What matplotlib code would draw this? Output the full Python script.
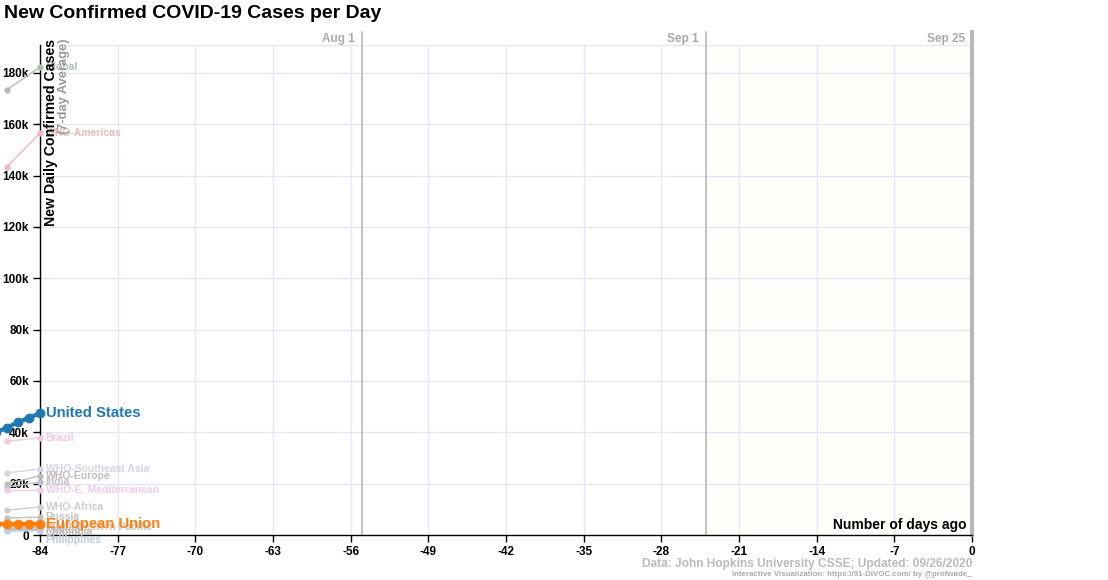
import numpy as np
import matplotlib
matplotlib.use("Agg")
import matplotlib.pyplot as plt

plt.rcParams['font.family'] = ['Liberation Sans', 'DejaVu Sans']

# days ago for the two frames shown on the left edge
faded_days = [-87, -84]
main_days = [-88, -87, -86, -85, -84]

# faded series: name, values (k cases) at faded_days, colour
faded_names = ["Global", "WHO-Americas", "Brazil", "WHO-Southeast Asia", "WHO-Europe",
               "India", "WHO-E. Mediterranean", "WHO-Africa", "Russia",
               "WHO-Western Pacific", "Mexico", "Colombia", "Philippines"]
faded_values = [[173.4, 182.3], [143.4, 156.6], [36.6, 37.8], [24.2, 25.7], [19.9, 23.1],
                [18.7, 20.6], [17.5, 17.5], [9.7, 10.9], [6.6, 7.0],
                [3.2, 3.4], [2.6, 2.8], [2.0, 2.3], [1.5, 1.7]]
faded_colors = ["#b2bdb2", "#eab9bd", "#f4c6df", "#d4d4ea", "#c2bbbb",
                "#c6bccc", "#f2cbe6", "#cfcfcf", "#c2c2c2",
                "#d2cbbd", "#c4bdb5", "#b8b8b8", "#bccae2"]
# label positions in k (so labels don't overlap completely)
faded_label_y = [182.3, 156.6, 37.8, 25.7, 23.1, 20.6, 17.5, 10.9, 7.0, 3.0, 2.0, 1.2, -2.0]

us_values = [40.0, 41.7, 44.0, 45.6, 47.5]
eu_values = [4.3, 4.3, 4.3, 4.3, 4.3]

x_ticks = list(range(-84, 1, 7))
y_ticks = list(range(0, 181, 20))
month_marks = [(-55, "Aug 1"), (-24, "Sep 1"), (0, "Sep 25")]

fig = plt.figure(figsize=(11.08, 5.8), dpi=100)
ax = fig.add_axes([40 / 1108, 45 / 580, 932 / 1108, 490 / 580])
y_top = 190.9
ax.set_xlim(-84, 0)
ax.set_ylim(0, y_top)

ax.axvspan(-24, 0, color="#fefefa", zorder=0)
for t in x_ticks:
    ax.axvline(t, color="#e6e6f2", lw=1, zorder=1)
for t in y_ticks[1:] + [y_top]:
    ax.axhline(t, color="#e6e6f2", lw=1, zorder=1)

for d, lab in month_marks:
    lw = 3 if d == 0 else 1.2
    ax.plot([d, d], [0, y_top + 5], color="#b8b8b8", lw=lw, zorder=2, clip_on=False)
    ax.text(d - 0.6, y_top + 2.3, lab, ha="right", va="center", fontsize=8.5,
            color="#aaaaaa", fontweight="bold")

for name, vals, c, ly in zip(faded_names, faded_values, faded_colors, faded_label_y):
    ax.plot(faded_days, vals, color=c, lw=1, marker="o", ms=3.5, clip_on=False, zorder=3)
    ax.text(-83.5, ly, name, color=c, fontsize=7.5, fontweight="bold",
            va="center", ha="left", zorder=4, clip_on=False)

ax.plot(main_days, us_values, color="#1f77b4", lw=3, marker="o", ms=6, clip_on=False, zorder=5)
ax.text(-83.5, us_values[-1], "United States", color="#1f77b4", fontsize=10.7,
        fontweight="bold", va="center", ha="left", zorder=6)
ax.plot(main_days, eu_values, color="#ff7f0e", lw=3, marker="o", ms=6, clip_on=False, zorder=5)
ax.text(-83.5, eu_values[-1], "European Union", color="#ff7f0e", fontsize=10.7,
        fontweight="bold", va="center", ha="left", zorder=6)

ax.set_xticks(x_ticks)
ax.set_xticklabels([str(t) for t in x_ticks], fontsize=8.5, fontweight="bold")
ax.set_yticks(y_ticks)
ax.set_yticklabels(["0"] + [f"{t}k" for t in y_ticks[1:]], fontsize=8.5, fontweight="bold")
ax.tick_params(length=5, width=1, pad=3)
for s in ["top", "right"]:
    ax.spines[s].set_visible(False)
ax.spines["left"].set_linewidth(1)
ax.spines["bottom"].set_linewidth(1)

ax.text(-83.0, y_top + 2.5, "New Daily Confirmed Cases", rotation=90, ha="center", va="top",
        fontsize=10.2, fontweight="bold", color="black", zorder=7, clip_on=False)
ax.text(-81.8, y_top + 2.5, "(7-day Average)", rotation=90, ha="center", va="top",
        fontsize=9.3, fontweight="bold", color="#999999", zorder=7, clip_on=False)
ax.text(-0.5, 4, "Number of days ago", ha="right", va="center", fontsize=10,
        fontweight="bold", color="black", zorder=7)

fig.text(4 / 1108, 1 - 14 / 580, "New Confirmed COVID-19 Cases per Day", ha="left",
         va="center", fontsize=14, fontweight="bold")
fig.text(972 / 1108, 1 - 564 / 580, "Data: John Hopkins University CSSE; Updated: 09/26/2020",
         ha="right", va="center", fontsize=8.6, fontweight="bold", color="#bbbbbb")
fig.text(972 / 1108, 1 - 574 / 580, "Interactive Visualization: https://91-DIVOC.com/ by @profwade_",
         ha="right", va="center", fontsize=5.7, fontweight="bold", color="#aaaaaa")

fig.savefig("out.png", dpi=100)
